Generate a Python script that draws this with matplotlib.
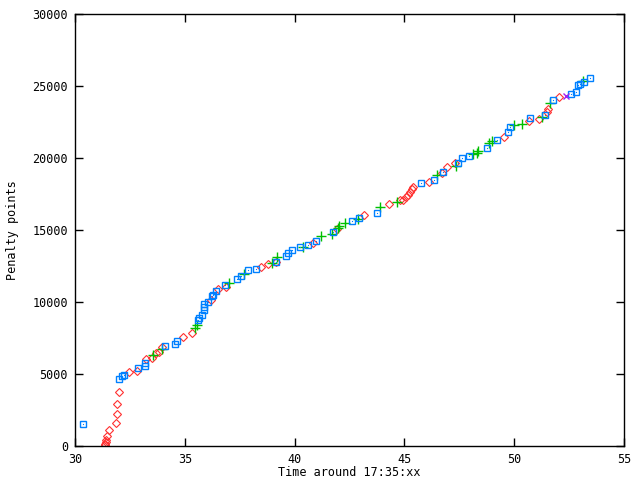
import matplotlib
matplotlib.use("Agg")
import matplotlib.pyplot as plt

# Blue squares (box with dot)
blue_x = [30.38, 32.02, 32.15, 32.24, 32.88, 33.20, 33.20, 34.11, 34.57, 34.63,
          35.59, 35.66, 35.80, 35.89, 35.89, 35.89, 36.07, 36.25, 36.30, 36.42,
          36.84, 37.36, 37.57, 37.89, 38.23, 39.15, 39.59, 39.71, 39.90, 40.25,
          40.62, 40.97, 41.76, 42.63, 42.95, 43.74, 45.74, 46.36, 46.77, 47.45,
          47.61, 47.96, 48.75, 49.20, 49.70, 49.82, 50.73, 51.42, 51.78, 52.60,
          52.83, 52.92, 53.00, 53.18, 53.47]
blue_y = [1510, 4653, 4861, 4930, 5396, 5535, 5764, 6944, 7062, 7291,
          8750, 8868, 9097, 9444, 9673, 9840, 9979, 10437, 10506, 10785,
          11180, 11597, 11784, 12201, 12270, 12798, 13194, 13381, 13610, 13798,
          13958, 14256, 14840, 15604, 15812, 16201, 18243, 18450, 19006, 19631,
          19978, 20138, 20694, 21249, 21784, 22173, 22756, 22985, 24027, 24423,
          24603, 25069, 25138, 25297, 25575]

# Green plus
green_x = [33.57, 33.95, 35.46, 35.57, 37.03, 37.71, 38.97, 39.21, 40.40, 41.22,
           41.69, 41.96, 42.04, 42.30, 42.90, 43.89, 44.65, 46.47, 47.34, 48.11,
           48.32, 48.37, 48.87, 48.98, 49.99, 50.34, 51.28, 51.62, 53.15]
green_y = [6319, 6715, 8173, 8402, 11340, 11944, 12700, 13104, 13840, 14583,
           14722, 15118, 15298, 15506, 15784, 16617, 16944, 18798, 19423, 20256,
           20326, 20485, 21020, 21159, 22312, 22340, 22867, 23798, 25367]

# Red diamonds
red_x = [31.36, 31.38, 31.40, 31.41, 31.47, 31.53, 31.88, 31.93, 31.93, 32.02,
         32.47, 32.84, 33.25, 33.52, 33.69, 33.84, 33.98, 34.90, 35.31, 36.19,
         36.50, 36.86, 38.47, 38.78, 39.15, 40.85, 41.94, 43.16, 44.31, 44.80,
         44.94, 45.07, 45.16, 45.25, 45.35, 45.39, 46.13, 46.70, 46.93, 47.30,
         49.55, 50.69, 51.14, 51.51, 51.55, 52.05]
red_y = [50, 139, 250, 417, 694, 1111, 1576, 2201, 2896, 3729,
         5118, 5187, 6021, 6090, 6437, 6507, 6895, 7548, 7868, 10139,
         10882, 11020, 12451, 12638, 12798, 14117, 15050, 16020, 16805, 17083,
         17083, 17291, 17430, 17638, 17846, 17985, 18312, 18937, 19353, 19631,
         21436, 22568, 22687, 23215, 23381, 24214]

# Purple cross
purple_x = [52.34]
purple_y = [24305]

x_ticks = [30, 35, 40, 45, 50, 55]
y_ticks = [0, 5000, 10000, 15000, 20000, 25000, 30000]

plt.rcParams['font.family'] = ['DejaVu Sans Mono']

fig = plt.figure(figsize=(6.4, 4.8), dpi=100)
ax = fig.add_axes([75/640, 34/480, 549/640, 432/480])

ax.plot(red_x, red_y, linestyle='none', marker='D', markersize=4.0,
        markerfacecolor='none', markeredgecolor='#ff3030', markeredgewidth=0.8)
ax.plot(green_x, green_y, linestyle='none', marker='+', markersize=6.5,
        color='#00c000', markeredgewidth=1.0)
ax.plot(blue_x, blue_y, linestyle='none', marker='s', markersize=4.6,
        markerfacecolor='none', markeredgecolor='#0080ff', markeredgewidth=1.0)
ax.plot(blue_x, blue_y, linestyle='none', marker='s', markersize=0.8,
        color='#0080ff', markeredgewidth=0)
ax.plot(purple_x, purple_y, linestyle='none', marker='x', markersize=4.5,
        color='#a020f0', markeredgewidth=1.0)

ax.set_xlim(30, 55)
ax.set_ylim(0, 30000)
ax.set_xticks(x_ticks)
ax.set_yticks(y_ticks)
ax.set_xticklabels([str(v) for v in x_ticks])
ax.set_yticklabels([str(v) for v in y_ticks])
ax.tick_params(direction='in', length=6, width=1, top=True, right=True,
               labelsize=8.5, colors='black', pad=5)
for s in ax.spines.values():
    s.set_linewidth(1)
    s.set_color('black')

ax.set_xlabel('Time around 17:35:xx', fontsize=8.5, labelpad=0)
ax.set_ylabel('Penalty points', fontsize=8.5, labelpad=10)

fig.savefig('out.png', dpi=100)
